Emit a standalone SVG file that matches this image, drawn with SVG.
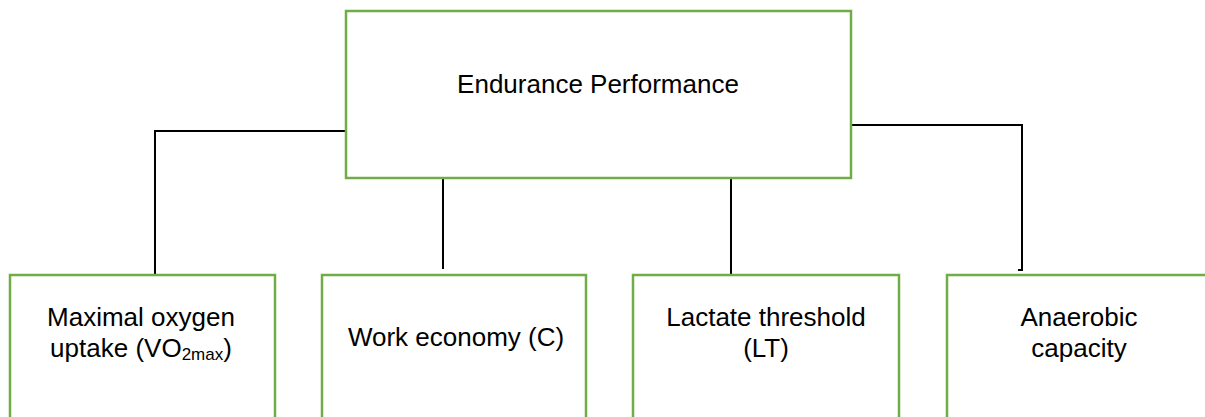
<svg xmlns="http://www.w3.org/2000/svg" width="1205" height="417" viewBox="0 0 1205 417">
<style>
.box{fill:#fff;stroke:#70AD47;stroke-width:2.5}
.lbl{font-family:"Liberation Sans",Arial,sans-serif;font-size:26px;fill:#000;text-anchor:middle}
.sub{font-size:17px}
.conn{fill:none;stroke:#000;stroke-width:2}
</style>
<rect width="1205" height="417" fill="#fff"/>
<g id="connectors">
<polyline class="conn" points="346,131 155,131 155,275"/>
<line class="conn" x1="443" y1="178" x2="443" y2="269"/>
<line class="conn" x1="731" y1="178" x2="731" y2="275"/>
<polyline class="conn" points="851,125 1022,125 1022,270 1018,270"/>
</g>
<g id="root">
<rect class="box" x="346" y="11" width="505" height="167"/>
<text class="lbl" x="598" y="93">Endurance Performance</text>
</g>
<g id="vo2max">
<rect class="box" x="10" y="275" width="265" height="145"/>
<text class="lbl" x="141" y="326">Maximal oxygen</text>
<text class="lbl" x="141" y="357">uptake (VO<tspan class="sub" dy="3">2max</tspan><tspan dy="-3">)</tspan></text>
</g>
<g id="economy">
<rect class="box" x="322" y="275" width="264" height="145"/>
<text class="lbl" x="456" y="346">Work economy (C)</text>
</g>
<g id="lt">
<rect class="box" x="633" y="275" width="266" height="145"/>
<text class="lbl" x="766" y="326">Lactate threshold</text>
<text class="lbl" x="766" y="357">(LT)</text>
</g>
<g id="anaerobic">
<rect class="box" x="947" y="275" width="270" height="145"/>
<text class="lbl" x="1079" y="326">Anaerobic</text>
<text class="lbl" x="1079" y="357">capacity</text>
</g>
</svg>
